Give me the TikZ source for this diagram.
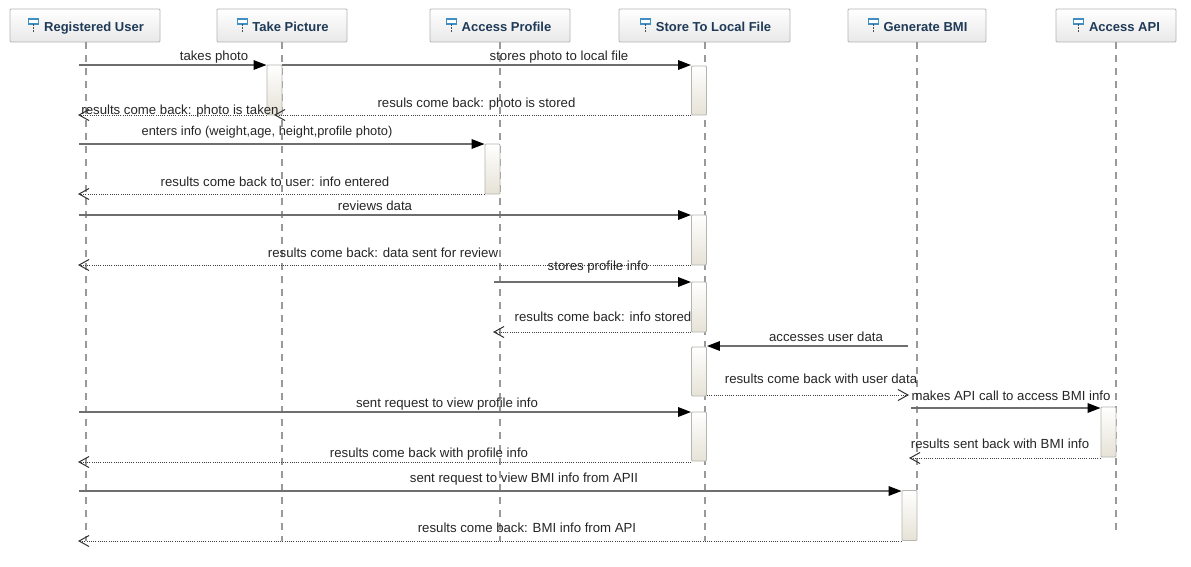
\documentclass[tikz,border=0pt]{standalone}
\usepackage{fontspec}
\setmainfont{Liberation Sans}
\usetikzlibrary{arrows.meta}
\definecolor{hdrtxt}{HTML}{1F3A57}
\definecolor{linegray}{HTML}{6E6E6E}
\definecolor{lifegray}{HTML}{999999}
\definecolor{boxedge}{HTML}{B5B5B0}
\definecolor{iconblue}{HTML}{3F8FC4}
\definecolor{actbottom}{HTML}{E6E2D6}
\tikzset{
  x=1pt,y=-1pt,
  hdr/.style={draw=boxedge,line width=0.9pt,rounded corners=1pt,top color=white,bottom color=black!9,minimum height=33pt,inner sep=0pt},
  hdrtitle/.style={font=\fontsize{13}{16}\selectfont\bfseries,text=hdrtxt,inner sep=0pt,anchor=base},
  lifeline/.style={draw=lifegray,line width=2pt,dash pattern=on 7pt off 6pt},
  act/.style={draw=boxedge,line width=0.9pt,rounded corners=1pt,top color=white,bottom color=actbottom,minimum width=15pt,inner sep=0pt},
  call/.style={draw=linegray,line width=1.7pt,-{Triangle[black,length=13pt,width=9.5pt]}},
  ret/.style={draw=black!75,line width=0.9pt,dash pattern=on 1pt off 1.2pt,-{Straight Barb[black!80,length=10pt,width=11pt,line width=1pt]}},
  msg/.style={font=\fontsize{13.2}{15}\selectfont,text=black!85,inner sep=0pt,anchor=base},
  lifeicon/.pic={
    \draw[iconblue,line width=1.1pt,fill=white] (-15,-7) rectangle (-5,-2);
    \draw[black!70,line width=0.9pt,dash pattern=on 1.5pt off 1.5pt] (-10,-2) -- (-10,6);
  }
}
\begin{document}
\begin{tikzpicture}
\useasboundingbox (0,0) rectangle (1191,566);
\fill[white] (0,0) rectangle (1191,566);
% headers
\node[hdr,minimum width=150pt] (h1) at (85,25.5) {};
\node[hdr,minimum width=130pt] (h2) at (282,25.5) {};
\node[hdr,minimum width=140pt] (h3) at (500,25.5) {};
\node[hdr,minimum width=171pt] (h4) at (704.5,25.5) {};
\node[hdr,minimum width=138pt] (h5) at (917,25.5) {};
\node[hdr,minimum width=120pt] (h6) at (1116,25.5) {};
\node[hdrtitle] (t1) at (94,31) {Registered User};
\node[hdrtitle] (t2) at (290.5,31) {Take Picture};
\node[hdrtitle] (t3) at (506.5,31) {Access Profile};
\node[hdrtitle] (t4) at (713.5,31) {Store To Local File};
\node[hdrtitle] (t5) at (925.5,31) {Generate BMI};
\node[hdrtitle] (t6) at (1124.5,31) {Access API};
\foreach \t in {t1,t2,t3,t4,t5,t6} \pic at (\t.base west |- 0,26) {lifeicon};
% lifeline ends
\coordinate (e1) at (86,541);
\coordinate (e2) at (282,541);
\coordinate (e3) at (500,541);
\coordinate (e4) at (705,541);
\coordinate (e5) at (917,490);
\coordinate (e6) at (1116,530);
\draw[lifeline] (86,42) -- (e1);
\draw[lifeline] (282,42) -- (e2);
\draw[lifeline] (500,42) -- (e3);
\draw[lifeline] (705,42) -- (e4);
\draw[lifeline] (917,42) -- (e5);
\draw[lifeline] (1116,42) -- (e6);
% activations
\node[act,minimum height=50pt] (a1) at (274.5,90) {};
\node[act,minimum height=49pt] (a2) at (699,90.5) {};
\node[act,minimum height=50pt] (a3) at (492.5,169) {};
\node[act,minimum height=50pt] (a4) at (699,240) {};
\node[act,minimum height=50pt] (a5) at (699,307) {};
\node[act,minimum height=49pt] (a6) at (699,371.5) {};
\node[act,minimum height=49pt] (a7) at (699,436.5) {};
\node[act,minimum height=50pt] (a8) at (1108.5,432) {};
\node[act,minimum height=50pt] (a9) at (909.5,515.5) {};
% free ends
\coordinate (u1) at (79,65);
\coordinate (u2) at (78,115);
\coordinate (r2) at (274,115);
\coordinate (u3) at (79,144);
\coordinate (u4) at (78,194);
\coordinate (u5) at (79,215);
\coordinate (u6) at (78,265);
\coordinate (p1) at (494,282);
\coordinate (p2) at (493,332);
\coordinate (g1) at (908,346);
\coordinate (g2) at (909,395);
\coordinate (g3) at (911,408);
\coordinate (g4) at (909,458);
\coordinate (u7) at (79,412);
\coordinate (u8) at (78,462);
\coordinate (u9) at (79,491);
\coordinate (u10) at (78,541);
% messages
\draw[call] (u1) -- (u1 -| a1.west);
\draw[call] (u1 -| a1.east) -- (u1 -| a2.west);
\draw[ret] (a2.west |- r2) -- (r2);
\draw[ret] (a1.west |- u2) -- (u2);
\draw[call] (u3) -- (u3 -| a3.west);
\draw[ret] (a3.west |- u4) -- (u4);
\draw[call] (u5) -- (u5 -| a4.west);
\draw[ret] (a4.west |- u6) -- (u6);
\draw[call] (p1) -- (p1 -| a5.west);
\draw[ret] (a5.west |- p2) -- (p2);
\draw[call] (g1) -- (g1 -| a6.east);
\draw[ret] (a6.east |- g2) -- (g2);
\draw[call] (g3) -- (g3 -| a8.west);
\draw[call] (u7) -- (u7 -| a7.west);
\draw[ret] (a8.west |- g4) -- (g4);
\draw[ret] (a7.west |- u8) -- (u8);
\draw[call] (u9) -- (u9 -| a9.west);
\draw[ret] (a9.west |- u10) -- (u10);
% labels
\node[msg] (m1) at (214,60) {takes photo};
\node[msg] (m2) at (559,60) {stores photo to local file};
\node[msg] (m3) at (476.5,107) {resuls come back: photo is stored};
\node[msg] (m4) at (180,114) {results come back: photo is taken};
\node[msg,font=\fontsize{12.85}{15}\selectfont] (m5) at (267,135) {enters info (weight,age, height,profile photo)};
\node[msg] (m6) at (275,186) {results come back to user: info entered};
\node[msg] (m7) at (375,210) {reviews data};
\node[msg] (m8) at (383,257) {results come back: data sent for review};
\node[msg] (m9) at (598,270) {stores profile info};
\node[msg] (m10) at (603,321) {results come back: info stored};
\node[msg] (m11) at (826,341) {accesses user data};
\node[msg] (m12) at (821,383) {results come back with user data};
\node[msg] (m13) at (1011,400) {makes API call to access BMI info};
\node[msg] (m14) at (447,407) {sent request to view profile info};
\node[msg] (m15) at (1000,448) {results sent back with BMI info};
\node[msg] (m16) at (429,457) {results come back with profile info};
\node[msg] (m17) at (524,482) {sent request to view BMI info from APII};
\node[msg] (m18) at (527,532) {results come back: BMI info from API};
\end{tikzpicture}
\end{document}
